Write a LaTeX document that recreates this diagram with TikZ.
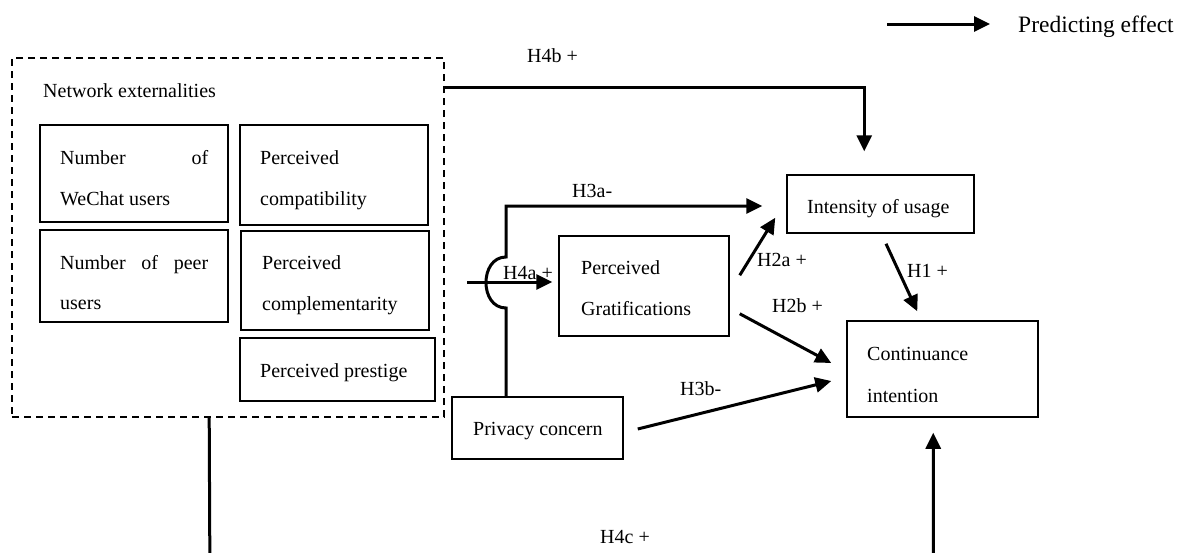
\documentclass[tikz,border=0pt]{standalone}
\usepackage{fontspec}
\setmainfont{Liberation Serif}
\usetikzlibrary{arrows.meta,calc}
\begin{document}
\begin{tikzpicture}[x=1pt,y=-1pt,
  txt/.style={font=\fontsize{20}{24}\selectfont, inner sep=0pt, anchor=base west},
  boxa/.style={draw, line width=2.2pt, inner sep=0pt},
  boxb/.style={draw, line width=1.5pt, inner sep=0pt},
  dashbox/.style={draw, line width=1.6pt, dash pattern=on 7pt off 5pt, inner sep=0pt},
  arr/.style={line width=3pt, -{Triangle[length=16pt,width=15pt]}},
]
\clip (0,0) rectangle (1184,552);
% outer dashed group
\node[dashbox, minimum width=432pt, minimum height=359pt] (ne) at (228,237.5) {};
\node[txt] (netxt) at (43,97) {Network externalities};
% inner boxes
\node[boxa, minimum width=188pt, minimum height=97pt] (nw) at (134,173.5) {};
\node[boxa, minimum width=188pt, minimum height=100pt] (pcb) at (334,175) {};
\node[boxa, minimum width=188pt, minimum height=92pt] (np) at (134,276) {};
\node[boxa, minimum width=188pt, minimum height=99pt] (pm) at (335,280.5) {};
\node[boxa, minimum width=195pt, minimum height=63pt] (pp) at (337.5,369.5) {};
\node[txt] (nw1) at (60,164) {\hbox to 148pt{Number\hfill of}};
\node[txt] (nw2) at (60,205) {WeChat users};
\node[txt] (pc1) at (260,164) {Perceived};
\node[txt] (pc2) at (260,205) {compatibility};
\node[txt] (np1) at (60,269) {\hbox to 148pt{Number\hfill of\hfill peer}};
\node[txt] (np2) at (60,309) {users};
\node[txt] (pm1) at (262,269) {Perceived};
\node[txt] (pm2) at (262,310) {complementarity};
\node[txt] (pp1) at (260,377) {Perceived prestige};
% right-hand boxes
\node[boxb, minimum width=170pt, minimum height=100pt] (pg) at (644,286) {};
\node[boxb, minimum width=187pt, minimum height=58pt] (iu) at (880.5,204) {};
\node[boxb, minimum width=171pt, minimum height=62pt] (pcn) at (537.5,428) {};
\node[boxb, minimum width=191pt, minimum height=96pt] (ci) at (942.5,369) {};
\node[txt] (pg1) at (581,274) {Perceived};
\node[txt] (pg2) at (581,315) {Gratifications};
\node[txt] (iu1) at (807,213) {Intensity of usage};
\node[txt] (pcn1) at (473,435) {Privacy concern};
\node[txt] (ci1) at (867,360) {Continuance};
\node[txt] (ci2) at (867,402) {intention};
% legend
\coordinate (lga) at (887,24);
\coordinate (lgb) at (990,24);
\draw[arr] (lga) -- (lgb);
\node[txt, font=\fontsize{23.5}{28}\selectfont] (lgt) at (1018,32) {Predicting effect};
% H4b
\draw[arr, shorten >=23pt] (ne.east |- 0,87) -| ([xshift=78pt]iu.north west);
\node[txt] (h4b) at (527,62) {H4b +};
% H3a with hop
\draw[arr, shorten >=24pt] ([xshift=-31.5pt]pcn.north) -- (506,308)
  .. controls (479.3,308) and (479.3,257) .. (506,257) -- (506,206) -- (iu.west |- 0,206);
\node[txt] (h3a) at (572,197) {H3a-};
% H4a
\coordinate (h4as) at (467,282);
\draw[arr, shorten >=6pt] (h4as) -- (pg.west |- h4as);
\node[txt] (h4a) at (503,279) {H4a +};
% H2a
\draw[arr] ($(pg.north east)+(10,40)$) -- ($(iu.south west)+(-11,-16)$);
\node[txt] (h2a) at (757,266) {H2a +};
% H1
\draw[arr] ($(iu.south)+(5.5,10)$) -- ($(ci.north west)+(71,-9)$);
\node[txt] (h1) at (907,277) {H1 +};
% H2b
\draw[arr] ($(pg.south east)+(10,-23)$) -- ($(ci.west)+(-15,-6)$);
\node[txt] (h2b) at (772,312) {H2b +};
% H3b
\draw[arr] ($(pcn.east)+(14,1)$) -- ($(ci.west)+(-15,12)$);
\node[txt] (h3b) at (680,395) {H3b-};
% H4c
\draw[arr, shorten >=15pt] ([xshift=198pt]ne.south west) -- (210,590) -| ([xshift=87pt]ci.south west);
\node[txt] (h4c) at (600,543) {H4c +};
\end{tikzpicture}
\end{document}
